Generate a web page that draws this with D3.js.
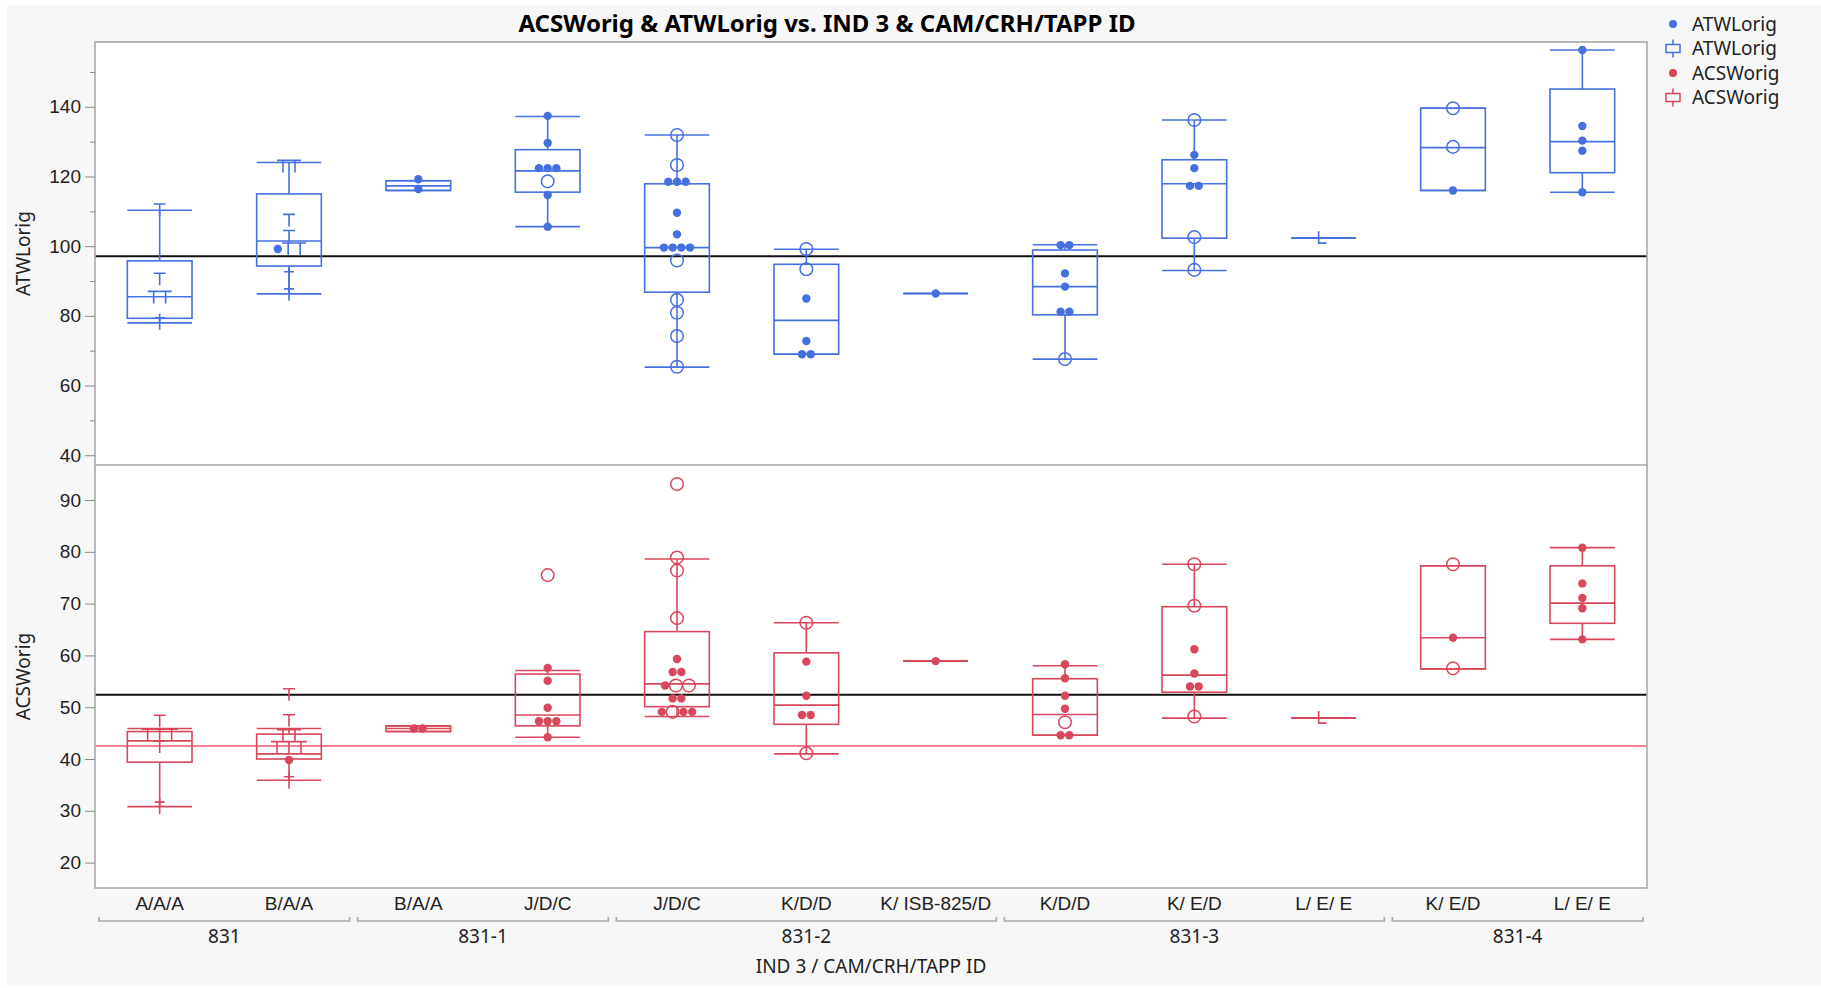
<!DOCTYPE html>
<html>
<head>
<meta charset="utf-8">
<script src="https://cdn.jsdelivr.net/npm/d3@7"></script>
<style>
  body { margin: 0; background: #fff; }
  svg { display: block; font-family: "Noto Sans", sans-serif; }
</style>
</head>
<body>
<script>
// ---- data ----
const categories = ["A/A/A", "B/A/A", "B/A/A", "J/D/C", "J/D/C", "K/D/D",
  "K/ ISB-825/D", "K/D/D", "K/ E/D", "L/ E/ E", "K/ E/D", "L/ E/ E"];
const groupNames = ["831", "831-1", "831-2", "831-3", "831-4"];
const groupSizes = [2, 2, 3, 3, 2];

// [low whisker, q1, median, q3, high whisker]
const atwStats = [
  [78.0, 79.3, 85.5, 95.8, 110.3],
  [86.3, 94.3, 101.5, 115.0, 124.0],
  [116.0, 116.0, 117.3, 118.8, 118.8],
  [105.6, 115.5, 121.6, 127.7, 137.2],
  [65.3, 86.8, 99.6, 117.9, 131.9],
  [69.0, 69.0, 78.7, 94.8, 99.1],
  [86.4, 86.4, 86.4, 86.4, 86.4],
  [67.6, 80.3, 88.4, 98.9, 100.4],
  [93.0, 102.3, 117.9, 124.8, 136.2],
  [102.3, 102.3, 102.3, 102.3, 102.3],
  [116.0, 116.0, 128.3, 139.6, 139.6],
  [115.5, 121.1, 130.0, 145.1, 156.3]
];
const acsStats = [
  [30.8, 39.4, 43.5, 45.3, 45.9],
  [35.9, 40.0, 41.0, 44.8, 45.9],
  [45.3, 45.3, 45.9, 46.4, 46.4],
  [44.2, 46.4, 48.5, 56.4, 57.1],
  [48.2, 50.1, 54.5, 64.6, 78.6],
  [41.0, 46.7, 50.4, 60.5, 66.3],
  [58.9, 58.9, 58.9, 58.9, 58.9],
  [44.6, 44.6, 48.6, 55.5, 58.0],
  [47.9, 52.9, 56.2, 69.4, 77.6],
  [47.9, 47.9, 47.9, 47.9, 47.9],
  [57.4, 57.4, 63.4, 77.3, 77.3],
  [63.1, 66.2, 70.1, 77.3, 80.8]
];

// [value, row marker]  o = dot, c = open circle, t / p / l = other marker shapes
const atwPoints = [
  [[110.4, "t"], [90.5, "t"], [85.3, "t"], [85.3, "t"], [78.3, "p"]],
  [[122.9, "t"], [122.9, "t"], [107.4, "t"], [102.8, "t"], [99.2, "o"], [99.2, "t"], [99.2, "t"], [91.5, "p"], [86.6, "p"]],
  [[119.2, "o"], [116.4, "o"]],
  [[137.4, "o"], [129.6, "o"], [122.4, "o"], [122.4, "o"], [122.4, "o"], [118.6, "c"], [114.7, "o"], [105.6, "o"]],
  [[131.9, "c"], [123.3, "c"], [118.5, "o"], [118.5, "o"], [118.5, "o"], [109.6, "o"], [103.4, "o"],
   [99.6, "o"], [99.6, "o"], [99.6, "o"], [99.6, "o"], [95.9, "c"], [84.6, "c"], [80.9, "c"], [74.2, "c"], [65.4, "c"]],
  [[99.2, "c"], [93.4, "c"], [85.0, "o"], [72.8, "o"], [69.0, "o"], [69.0, "o"]],
  [[86.4, "o"]],
  [[100.3, "o"], [100.3, "o"], [92.2, "o"], [88.4, "o"], [81.2, "o"], [81.2, "o"], [67.6, "c"]],
  [[136.2, "c"], [126.2, "o"], [122.4, "o"], [117.3, "o"], [117.3, "o"], [102.6, "c"], [93.2, "c"]],
  [[102.3, "l"]],
  [[139.6, "c"], [128.5, "c"], [116.0, "o"]],
  [[156.3, "o"], [134.5, "o"], [130.3, "o"], [127.4, "o"], [115.5, "o"]]
];
const acsPoints = [
  [[47.3, "t"], [44.6, "t"], [44.6, "t"], [44.6, "t"], [42.3, "t"], [30.9, "p"]],
  [[52.4, "t"], [47.4, "t"], [44.5, "t"], [44.5, "t"], [42.2, "t"], [42.2, "t"], [42.2, "t"], [39.8, "o"], [35.8, "p"]],
  [[45.9, "o"], [45.9, "o"]],
  [[75.5, "c"], [57.6, "o"], [55.1, "o"], [49.9, "o"], [47.3, "o"], [47.3, "o"], [47.3, "o"], [44.2, "o"]],
  [[93.1, "c"], [78.9, "c"], [76.4, "c"], [67.2, "c"], [59.3, "o"], [56.8, "o"], [56.8, "o"],
   [54.2, "o"], [54.2, "c"], [54.2, "c"], [51.7, "o"], [51.7, "o"], [49.1, "o"], [49.1, "c"], [49.1, "o"], [49.1, "o"]],
  [[66.3, "c"], [58.8, "o"], [52.2, "o"], [48.5, "o"], [48.5, "o"], [41.1, "c"]],
  [[58.9, "o"]],
  [[58.3, "o"], [55.6, "o"], [52.2, "o"], [49.7, "o"], [47.1, "c"], [44.6, "o"], [44.6, "o"]],
  [[77.6, "c"], [69.6, "c"], [61.2, "o"], [56.5, "o"], [54.0, "o"], [54.0, "o"], [48.2, "c"]],
  [[47.9, "l"]],
  [[77.6, "c"], [63.4, "o"], [57.5, "c"]],
  [[80.8, "o"], [73.9, "o"], [71.1, "o"], [69.1, "o"], [63.1, "o"]]
];

const atwTicks = [40, 60, 80, 100, 120, 140];
const atwMinorTicks = [50, 70, 90, 110, 130, 150];
const acsTicks = [20, 30, 40, 50, 60, 70, 80, 90];
const atwRef = 97.1;
const acsRef = 52.4;
const acsLimit = 42.5;

// ---- layout ----
const width = 1821;
const height = 988;
const plot = { left: 95, right: 1647, top: 42, mid: 465, bottom: 888 };
const blue = "#4670e0";
const red = "#d9475a";
const fontSize = "19px";

const svg = d3.select("body").append("svg")
  .attr("width", width)
  .attr("height", height);

svg.append("rect")
  .attr("x", 7).attr("y", 5)
  .attr("width", width - 7).attr("height", height - 7)
  .attr("fill", "#f7f7f7");

svg.append("rect")
  .attr("x", plot.left).attr("y", plot.top)
  .attr("width", plot.right - plot.left).attr("height", plot.bottom - plot.top)
  .attr("fill", "#fff");

const x = d3.scaleBand()
  .domain(d3.range(categories.length))
  .range([plot.left, plot.right]);

const yTop = d3.scaleLinear().domain([37.2, 158.6]).range([plot.mid, plot.top]);
const yBot = d3.scaleLinear().domain([15.1, 96.76]).range([plot.bottom, plot.mid]);

const cx = (i) => x(i) + x.bandwidth() / 2;
const boxW = x.bandwidth() * 0.5;

// points with (nearly) the same value sit side by side
const markerGap = { o: 8.7, c: 13, t: 12, p: 12, l: 12 };
function layoutPoints(pts, y) {
  const items = pts.map(([v, m], i) => ({ v, m, i, py: y(v) }))
    .sort((a, b) => a.py - b.py || a.i - b.i);
  const clusters = [];
  items.forEach((p) => {
    const last = clusters[clusters.length - 1];
    if (last && p.py - last[0].py <= 7) last.push(p);
    else clusters.push([p]);
  });
  clusters.forEach((c) => {
    c.sort((a, b) => a.i - b.i);
    let pos = 0;
    c.forEach((p, k) => {
      if (k > 0) pos += (markerGap[c[k - 1].m] + markerGap[p.m]) / 2;
      p.dx = pos;
    });
    c.forEach((p) => { p.dx -= pos / 2; p.py = c[0].py; });
  });
  return items;
}

function markerPath(m) {
  if (m === "t") return "M-6,-6H6M0,-6V6";
  if (m === "p") return "M-5,-4H5M0,-8V8";
  return "M-5,-7V5H3";
}

function drawPanel(y, stats, points, color) {
  const g = svg.append("g");

  const boxes = g.selectAll("g.box")
    .data(stats)
    .join("g")
    .attr("class", "box")
    .attr("transform", (d, i) => `translate(${cx(i)},0)`)
    .attr("stroke", color)
    .attr("stroke-width", 1.6)
    .attr("fill", "none");

  boxes.append("line")
    .attr("y1", (d) => y(d[3])).attr("y2", (d) => y(d[4]));
  boxes.append("line")
    .attr("y1", (d) => y(d[0])).attr("y2", (d) => y(d[1]));
  boxes.append("line")
    .attr("x1", -boxW / 2).attr("x2", boxW / 2)
    .attr("y1", (d) => y(d[4])).attr("y2", (d) => y(d[4]));
  boxes.append("line")
    .attr("x1", -boxW / 2).attr("x2", boxW / 2)
    .attr("y1", (d) => y(d[0])).attr("y2", (d) => y(d[0]));
  boxes.append("rect")
    .attr("x", -boxW / 2).attr("width", boxW)
    .attr("y", (d) => y(d[3]))
    .attr("height", (d) => y(d[1]) - y(d[3]));
  boxes.append("line")
    .attr("x1", -boxW / 2).attr("x2", boxW / 2)
    .attr("y1", (d) => y(d[2])).attr("y2", (d) => y(d[2]));

  points.forEach((pts, i) => {
    const laid = layoutPoints(pts, y);
    const pg = g.append("g").attr("transform", `translate(${cx(i)},0)`);
    pg.selectAll("circle.dot")
      .data(laid.filter((p) => p.m === "o"))
      .join("circle")
      .attr("cx", (p) => p.dx).attr("cy", (p) => p.py)
      .attr("r", 4.2)
      .attr("fill", color);
    pg.selectAll("circle.open")
      .data(laid.filter((p) => p.m === "c"))
      .join("circle")
      .attr("cx", (p) => p.dx).attr("cy", (p) => p.py)
      .attr("r", 6.3)
      .attr("fill", "none")
      .attr("stroke", color)
      .attr("stroke-width", 1.5);
    pg.selectAll("path.mark")
      .data(laid.filter((p) => "tpl".includes(p.m)))
      .join("path")
      .attr("transform", (p) => `translate(${p.dx},${p.py})`)
      .attr("d", (p) => markerPath(p.m))
      .attr("fill", "none")
      .attr("stroke", color)
      .attr("stroke-width", 1.6);
  });
}

function refLine(y, v, color, w) {
  svg.append("line")
    .attr("x1", plot.left).attr("x2", plot.right)
    .attr("y1", y(v)).attr("y2", y(v))
    .attr("stroke", color)
    .attr("stroke-width", w);
}

refLine(yTop, atwRef, "#111", 2);
refLine(yBot, acsRef, "#111", 2);
refLine(yBot, acsLimit, "#ec5a6c", 1.6);

drawPanel(yTop, atwStats, atwPoints, blue);
drawPanel(yBot, acsStats, acsPoints, red);

// frame and panel divider
svg.append("rect")
  .attr("x", plot.left).attr("y", plot.top)
  .attr("width", plot.right - plot.left).attr("height", plot.bottom - plot.top)
  .attr("fill", "none")
  .attr("stroke", "#a9a9a9")
  .attr("stroke-width", 1.6);
svg.append("line")
  .attr("x1", plot.left).attr("x2", plot.right)
  .attr("y1", plot.mid).attr("y2", plot.mid)
  .attr("stroke", "#a9a9a9")
  .attr("stroke-width", 1.6);

// y axes
function styleAxis(g) {
  g.select(".domain").remove();
  g.selectAll(".tick line").attr("stroke", "#8a8a8a");
  g.selectAll(".tick text").attr("fill", "#222").style("font-size", fontSize);
}
svg.append("g")
  .attr("transform", `translate(${plot.left},0)`)
  .call(d3.axisLeft(yTop).tickValues(atwTicks).tickSize(10).tickPadding(4))
  .call(styleAxis);
svg.append("g")
  .attr("transform", `translate(${plot.left},0)`)
  .call(d3.axisLeft(yTop).tickValues(atwMinorTicks).tickSize(5).tickFormat(""))
  .call(styleAxis);
svg.append("g")
  .attr("transform", `translate(${plot.left},0)`)
  .call(d3.axisLeft(yBot).tickValues(acsTicks).tickSize(10).tickPadding(4))
  .call(styleAxis);

// x axis: categories, then group brackets
svg.append("g")
  .attr("transform", `translate(0,${plot.bottom})`)
  .call(d3.axisBottom(x).tickFormat((i) => categories[i]).tickSize(0).tickPadding(9))
  .call((g) => g.select(".domain").remove())
  .call((g) => g.selectAll(".tick text").attr("fill", "#222").style("font-size", fontSize));

const groupStarts = d3.cumsum([0, ...groupSizes]);
const groups = svg.append("g")
  .selectAll("g")
  .data(groupNames)
  .join("g");
groups.append("path")
  .attr("d", (d, k) => {
    const x0 = x(groupStarts[k]) + 4;
    const x1 = x(groupStarts[k + 1] - 1) + x.bandwidth() - 4;
    return `M${x0},917V921H${x1}V917`;
  })
  .attr("fill", "none")
  .attr("stroke", "#a9a9a9")
  .attr("stroke-width", 1.6);
groups.append("text")
  .attr("x", (d, k) => (x(groupStarts[k]) + x(groupStarts[k + 1] - 1) + x.bandwidth()) / 2)
  .attr("y", 943)
  .attr("text-anchor", "middle")
  .attr("fill", "#222")
  .style("font-size", fontSize)
  .text((d) => d);

// titles
svg.append("text")
  .attr("x", 827).attr("y", 32)
  .attr("text-anchor", "middle")
  .attr("fill", "#000")
  .style("font-size", "24px")
  .style("font-weight", "bold")
  .text("ACSWorig & ATWLorig vs. IND 3 & CAM/CRH/TAPP ID");

svg.append("text")
  .attr("x", (plot.left + plot.right) / 2).attr("y", 973)
  .attr("text-anchor", "middle")
  .attr("fill", "#222")
  .style("font-size", fontSize)
  .text("IND 3 / CAM/CRH/TAPP ID");

[["ATWLorig", (plot.top + plot.mid) / 2], ["ACSWorig", (plot.mid + plot.bottom) / 2]]
  .forEach(([label, cy]) => {
    svg.append("text")
      .attr("transform", `translate(30,${cy}) rotate(-90)`)
      .attr("text-anchor", "middle")
      .attr("fill", "#222")
      .style("font-size", fontSize)
      .text(label);
  });

// legend
const legendItems = [
  { label: "ATWLorig", color: blue, kind: "dot" },
  { label: "ATWLorig", color: blue, kind: "box" },
  { label: "ACSWorig", color: red, kind: "dot" },
  { label: "ACSWorig", color: red, kind: "box" }
];
const legend = svg.append("g")
  .selectAll("g")
  .data(legendItems)
  .join("g")
  .attr("transform", (d, k) => `translate(1673,${24 + k * 24.5})`);
legend.filter((d) => d.kind === "dot")
  .append("circle")
  .attr("r", 4)
  .attr("fill", (d) => d.color);
legend.filter((d) => d.kind === "box")
  .append("path")
  .attr("d", "M-7,-4H7V4H-7ZM0,-9V-4M0,4V9")
  .attr("fill", "none")
  .attr("stroke", (d) => d.color)
  .attr("stroke-width", 1.5);
legend.append("text")
  .attr("x", 19)
  .attr("dy", "0.35em")
  .attr("fill", "#222")
  .style("font-size", fontSize)
  .text((d) => d.label);
</script>
</body>
</html>
